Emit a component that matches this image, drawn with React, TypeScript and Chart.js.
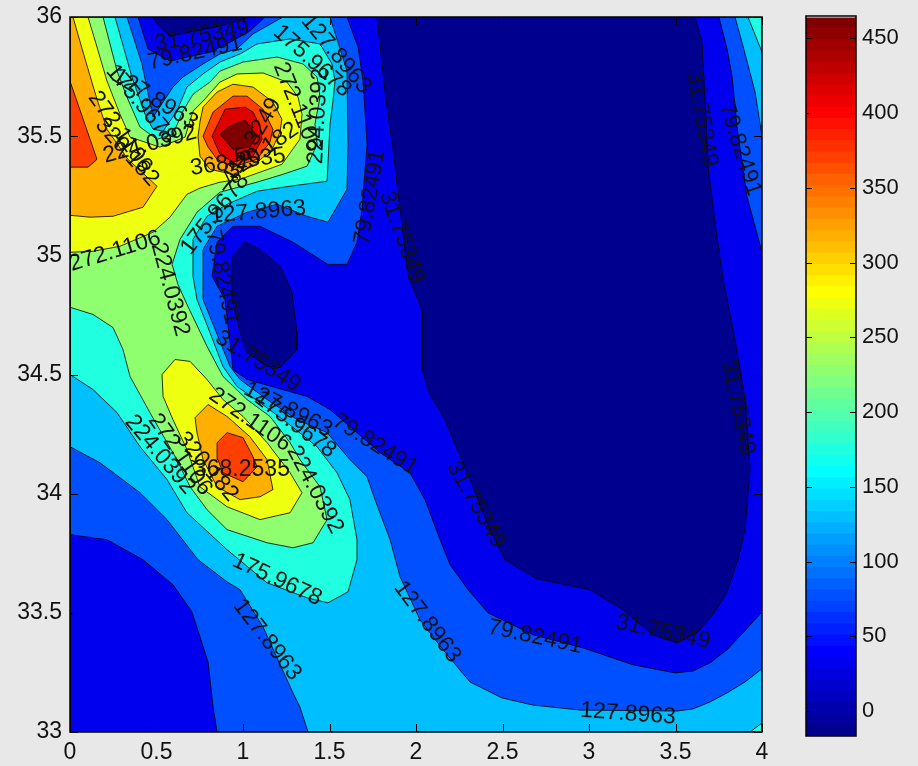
import React, { useEffect, useRef } from "react";
import { Chart, registerables } from "chart.js";

Chart.register(...registerables);

type P = [number, number];

const xTicksStep = 0.5;
const yTicksStep = 0.5;
const colorbarTicks = [0, 50, 100, 150, 200, 250, 300, 350, 400, 450];

const NAVY = "#00008f", BLUE = "#0000ef", MID = "#0050ff", LIGHT = "#00bfff", CYAN = "#20ffdf",
  GREEN = "#8fff70", YELLOW = "#efff10", ORANGE = "#ffaf00", ORANGE_RED = "#ff4000", RED = "#df0000", MAROON = "#800000";

const fieldBase: P[] = [[0,33],[4,33],[4,36],[0,36]];
const navyMain: P[] = [[1.775,36],[1.821,35.685],[1.867,35.445],[1.908,35.193],[1.954,34.912],[2.035,34.773],[2.035,34.521],[2.081,34.416],[2.168,34.311],[2.312,34.059],[2.428,33.849],[2.514,33.723],[2.699,33.643],[3.006,33.597],[3.197,33.513],[3.37,33.408],[3.509,33.374],[3.624,33.416],[3.728,33.504],[3.798,33.588],[3.861,33.723],[3.902,33.849],[3.931,34.101],[3.902,34.395],[3.844,34.647],[3.775,34.899],[3.728,35.139],[3.688,35.374],[3.676,35.571],[3.653,35.895],[3.613,36]];
const navyTop: P[] = [[0.48,36],[0.503,35.971],[0.578,35.92],[0.867,35.962],[1.0,35.992],[1.04,36]];
const navyPool: P[] = [[0.936,34.996],[1.012,35.055],[1.098,35.025],[1.214,34.954],[1.283,34.845],[1.312,34.676],[1.312,34.605],[1.214,34.529],[1.139,34.534],[1.023,34.592],[0.983,34.676],[0.936,34.815]];
const midMain: P[] = [[0,33.828],[0.214,33.807],[0.422,33.723],[0.595,33.618],[0.705,33.504],[0.798,33.294],[0.827,33.105],[0.85,33],[4,33],[4,33.504],[3.89,33.416],[3.798,33.345],[3.699,33.29],[3.601,33.256],[3.497,33.248],[3.254,33.282],[2.965,33.353],[2.676,33.408],[2.416,33.5],[2.301,33.597],[2.197,33.702],[2.139,33.807],[2.052,33.975],[1.965,34.088],[1.792,34.172],[1.659,34.256],[1.503,34.353],[1.37,34.408],[1.023,34.479],[0.942,34.521],[0.896,34.815],[0.821,34.912],[0.85,35.055],[0.942,35.122],[1.098,35.122],[1.289,35.055],[1.491,34.962],[1.601,34.962],[1.659,35.055],[1.688,35.193],[1.717,35.466],[1.694,35.731],[1.665,35.874],[1.601,36],[1.127,36],[1.04,35.941],[0.908,35.887],[0.809,35.853],[0.578,35.815],[0.451,35.866],[0.393,36],[0,36]];
const midCorner: P[] = [[3.751,36],[3.798,35.866],[3.827,35.752],[3.855,35.542],[3.913,35.248],[4,35.013],[4,36]];
const lightMain: P[] = [[0,34.197],[0.173,34.13],[0.405,34.004],[0.561,33.891],[0.74,33.723],[0.908,33.63],[0.983,33.597],[1.116,33.441],[1.289,33.164],[1.329,33.105],[1.376,33],[4,33],[4,33.265],[3.902,33.21],[3.798,33.164],[3.699,33.126],[3.601,33.097],[3.509,33.088],[2.948,33.092],[2.676,33.113],[2.497,33.143],[2.312,33.21],[2.156,33.345],[2.023,33.471],[1.908,33.651],[1.85,33.807],[1.763,33.975],[1.717,34.071],[1.618,34.143],[1.486,34.256],[1.312,34.311],[1.139,34.395],[0.983,34.479],[0.925,34.534],[0.769,34.815],[0.769,35.025],[0.85,35.122],[1.023,35.181],[1.197,35.214],[1.37,35.164],[1.491,35.139],[1.601,35.277],[1.607,35.466],[1.601,35.773],[1.503,36],[1.231,36],[1.058,35.929],[0.965,35.866],[0.867,35.845],[0.769,35.803],[0.653,35.748],[0.595,35.706],[0.48,35.58],[0.416,35.803],[0.329,36],[0,36]];
const lightCorner: P[] = [[3.844,36],[3.89,35.878],[3.96,35.685],[4,35.5],[4,36]];
const cyanMain: P[] = [[0,34.5],[0.133,34.437],[0.272,34.34],[0.405,34.197],[0.561,34.059],[0.676,33.92],[0.908,33.765],[1.139,33.626],[1.37,33.563],[1.491,33.542],[1.607,33.588],[1.659,33.723],[1.659,33.807],[1.618,33.975],[1.543,34.088],[1.428,34.197],[1.254,34.298],[1.098,34.382],[0.965,34.45],[0.884,34.534],[0.809,34.676],[0.734,34.815],[0.711,34.912],[0.711,35.067],[0.792,35.164],[0.908,35.214],[1.081,35.269],[1.272,35.29],[1.486,35.311],[1.503,35.55],[1.52,35.647],[1.532,35.731],[1.514,35.803],[1.445,35.887],[1.272,35.908],[1.081,35.887],[0.983,35.845],[0.867,35.811],[0.769,35.761],[0.676,35.706],[0.618,35.605],[0.538,35.521],[0.48,35.529],[0.434,35.592],[0.358,35.748],[0.26,36],[0,36]];
const cyanTopCorner: P[] = [[3.919,36],[4,35.853],[4,36]];
const cyanBottomCorner: P[] = [[3.931,33],[4,33.038],[4,33]];
const greenMain: P[] = [[0,34.782],[0.133,34.752],[0.249,34.697],[0.306,34.605],[0.347,34.492],[0.462,34.34],[0.618,34.143],[0.694,34.029],[0.792,33.933],[0.908,33.849],[1.139,33.794],[1.289,33.773],[1.405,33.794],[1.486,33.891],[1.445,34.029],[1.329,34.143],[1.272,34.214],[1.156,34.324],[1.023,34.395],[0.884,34.492],[0.792,34.618],[0.676,34.794],[0.624,34.878],[0.59,34.962],[0.636,35.067],[0.734,35.181],[0.867,35.265],[1.081,35.307],[1.231,35.34],[1.37,35.374],[1.428,35.466],[1.416,35.55],[1.445,35.664],[1.428,35.748],[1.347,35.803],[1.197,35.832],[1.0,35.811],[0.867,35.773],[0.809,35.727],[0.711,35.676],[0.653,35.605],[0.595,35.508],[0.503,35.487],[0.405,35.538],[0.329,35.664],[0.272,35.773],[0.191,36],[0,36]];
const yellowMain: P[] = [[0,35.013],[0.133,35.017],[0.289,35.038],[0.48,35.097],[0.578,35.16],[0.676,35.256],[0.751,35.282],[0.867,35.307],[0.983,35.319],[1.225,35.382],[1.329,35.487],[1.341,35.592],[1.318,35.664],[1.254,35.727],[1.116,35.765],[0.965,35.761],[0.867,35.727],[0.769,35.647],[0.711,35.605],[0.665,35.496],[0.52,35.454],[0.347,35.496],[0.289,35.592],[0.214,35.731],[0.156,35.874],[0.104,36],[0,36]];
const yellowLower: P[] = [[0.532,34.5],[0.607,34.563],[0.694,34.555],[0.792,34.479],[0.884,34.395],[1.0,34.324],[1.139,34.214],[1.272,34.088],[1.341,34.004],[1.272,33.92],[1.098,33.891],[0.908,33.945],[0.751,34.029],[0.676,34.185],[0.595,34.311],[0.538,34.408]];
const orangeLeft: P[] = [[0,35.168],[0.116,35.16],[0.249,35.164],[0.422,35.202],[0.503,35.29],[0.335,35.403],[0.214,35.529],[0.156,35.655],[0.087,35.824],[0.017,36],[0,36]];
const orangePeak: P[] = [[0.751,35.559],[0.769,35.622],[0.85,35.685],[0.942,35.718],[1.058,35.706],[1.173,35.643],[1.225,35.571],[1.214,35.517],[1.168,35.445],[1.058,35.374],[0.942,35.34],[0.809,35.361],[0.751,35.416],[0.74,35.5]];
const orangeLower: P[] = [[0.723,34.319],[0.798,34.374],[0.908,34.324],[1.04,34.239],[1.139,34.143],[1.173,34.017],[1.098,33.987],[0.983,33.975],[0.85,34.029],[0.769,34.143],[0.734,34.256]];
const hotLeft: P[] = [[0,35.731],[0.156,35.403],[0.104,35.37],[0,35.37]];
const hotPeak: P[] = [[0.769,35.5],[0.827,35.601],[0.942,35.668],[1.023,35.668],[1.116,35.613],[1.173,35.529],[1.156,35.475],[1.081,35.403],[0.942,35.37],[0.85,35.403],[0.798,35.454]];
const hotLower: P[] = [[0.85,34.214],[0.908,34.256],[1.0,34.235],[1.058,34.155],[1.081,34.113],[1.0,34.05],[0.884,34.088],[0.855,34.143]];
const redPeak: P[] = [[0.821,35.5],[0.896,35.613],[1.012,35.622],[1.058,35.601],[1.098,35.542],[1.11,35.487],[1.058,35.416],[0.942,35.391],[0.867,35.424]];
const maroonPeak: P[] = [[0.867,35.508],[0.925,35.542],[1.012,35.567],[1.081,35.5],[1.04,35.454],[0.942,35.445]];

const paintOrder: [P[], string][] = [
  [fieldBase, BLUE], [navyMain, NAVY], [navyTop, NAVY], [navyPool, NAVY],
  [midMain, MID], [midCorner, MID], [lightMain, LIGHT], [lightCorner, LIGHT],
  [cyanMain, CYAN], [cyanTopCorner, CYAN], [cyanBottomCorner, CYAN], [greenMain, GREEN],
  [yellowMain, YELLOW], [yellowLower, YELLOW], [orangeLeft, ORANGE], [orangePeak, ORANGE], [orangeLower, ORANGE],
  [hotLeft, ORANGE_RED], [hotPeak, ORANGE_RED], [hotLower, ORANGE_RED], [redPeak, RED], [maroonPeak, MAROON],
];

const labelTexts = ["31.75349","79.82491","127.8963","175.9678","272.1106","224.0392","320.182","272.1106","224.0392","127.8963","175.9678","368.2535","416.3249","320.182","272.1106","224.0392","175.9678","127.8963","79.82491","31.75349","127.8963","175.9678","272.1106","224.0392","79.82491","31.75349","127.8963","79.82491","31.75349","127.8963","175.9678","127.8963","224.0392","272.1106","320.182","368.2535","31.75349","79.82491","31.75349","79.82491","31.75349"];
const labelX = [0.763,0.723,1.538,1.399,1.312,1.434,0.329,0.289,0.462,0.491,0.41,0.971,1.052,1.11,0.26,0.578,0.838,1.087,0.879,1.087,1.26,1.301,1.04,1.416,1.763,2.347,2.064,2.688,3.428,3.225,1.197,1.139,0.52,0.636,0.792,0.994,3.653,3.873,3.861,1.734,1.919];
const labelY = [35.92,35.849,35.845,35.815,35.622,35.584,35.433,35.517,35.466,35.655,35.634,35.391,35.479,35.437,35.017,34.857,35.172,35.181,34.908,34.555,34.353,34.29,34.311,34.017,34.206,33.954,33.462,33.399,33.42,33.076,33.639,33.387,34.164,34.164,34.113,34.101,35.571,35.445,34.361,35.244,35.076];
const labelAngle = [-10,-12,50,42,68,-87,48,55,-15,32,50,-8,-60,-35,-17,75,-52,-5,78,32,27,37,35,62,32,60,53,12,12,4,25,52,50,55,50,0,80,72,78,-80,70];

const colorbarEdges = [-16.7,-9.2,-1.7,5.8,13.3,20.9,28.4,35.9,43.4,50.9,58.4,65.9,73.4,81,88.5,96,103.5,111,118.5,126,133.5,141.1,148.6,156.1,163.6,171.1,178.6,186.1,193.6,201.2,208.7,216.2,223.7,231.2,238.7,246.2,253.7,261.3,268.8,276.3,283.8,291.3,298.8,306.3,313.8,321.4,328.9,336.4,343.9,351.4,358.9,366.4,373.9,381.5,389,396.5,404,411.5,419,426.5,434,441.6,449.1,456.6,463.7];
const colorbarColors = ["#00008f","#00009f","#0000af","#0000bf","#0000cf","#0000df","#0000ef","#0000ff","#0010ff","#0020ff","#0030ff","#0040ff","#0050ff","#0060ff","#0070ff","#0080ff","#008fff","#009fff","#00afff","#00bfff","#00cfff","#00dfff","#00efff","#00ffff","#10ffef","#20ffdf","#30ffcf","#40ffbf","#50ffaf","#60ff9f","#70ff8f","#80ff80","#8fff70","#9fff60","#afff50","#bfff40","#cfff30","#dfff20","#efff10","#ffff00","#ffef00","#ffdf00","#ffcf00","#ffbf00","#ffaf00","#ff9f00","#ff8f00","#ff8000","#ff7000","#ff6000","#ff5000","#ff4000","#ff3000","#ff2000","#ff1000","#ff0000","#ef0000","#df0000","#cf0000","#bf0000","#af0000","#9f0000","#8f0000","#800000"];

const PAGE = "#e8e8e8";
const FONT = "'Liberation Sans', Arial, sans-serif";
const INK = "#111111";

const contourOverlay = {
  id: "contourOverlay",
  afterDatasetsDraw(chart: any) {
    const { ctx, chartArea: a, scales } = chart;
    const { x, y } = scales;
    ctx.save();
    ctx.beginPath();
    ctx.rect(a.left, a.top, a.right - a.left, a.bottom - a.top);
    ctx.clip();
    ctx.fillStyle = INK;
    ctx.font = `23px ${FONT}`;
    ctx.textAlign = "center";
    ctx.textBaseline = "middle";
    labelTexts.forEach((t, i) => {
      ctx.save();
      ctx.translate(x.getPixelForValue(labelX[i]), y.getPixelForValue(labelY[i]));
      ctx.rotate((labelAngle[i] * Math.PI) / 180);
      ctx.fillText(t, 0, 0);
      ctx.restore();
    });
    ctx.restore();
    ctx.save();
    ctx.strokeStyle = "#000";
    ctx.lineWidth = 1;
    const len = 8;
    ctx.beginPath();
    x.ticks.forEach((t: any) => {
      const p = Math.round(x.getPixelForValue(t.value)) + 0.5;
      ctx.moveTo(p, a.bottom); ctx.lineTo(p, a.bottom - len);
      ctx.moveTo(p, a.top); ctx.lineTo(p, a.top + len);
    });
    y.ticks.forEach((t: any) => {
      const p = Math.round(y.getPixelForValue(t.value)) + 0.5;
      ctx.moveTo(a.left, p); ctx.lineTo(a.left + len, p);
      ctx.moveTo(a.right, p); ctx.lineTo(a.right - len, p);
    });
    ctx.stroke();
    ctx.lineWidth = 1.5;
    ctx.strokeRect(a.left, a.top, a.right - a.left, a.bottom - a.top);
    ctx.restore();
  },
};

const colorbarFrame = {
  id: "colorbarFrame",
  beforeDatasetsDraw(chart: any) {
    const { ctx, chartArea: a } = chart;
    ctx.save();
    ctx.fillStyle = "#ffffff";
    ctx.fillRect(a.left, a.top, a.right - a.left, a.bottom - a.top);
    ctx.restore();
  },
  afterDatasetsDraw(chart: any) {
    const { ctx, chartArea: a, scales } = chart;
    ctx.save();
    ctx.strokeStyle = "#000";
    ctx.lineWidth = 1;
    ctx.beginPath();
    scales.y.ticks.forEach((t: any) => {
      const p = Math.round(scales.y.getPixelForValue(t.value)) + 0.5;
      ctx.moveTo(a.left, p); ctx.lineTo(a.left + 6, p);
      ctx.moveTo(a.right, p); ctx.lineTo(a.right - 6, p);
    });
    ctx.stroke();
    ctx.lineWidth = 1.5;
    ctx.strokeRect(a.left, a.top, a.right - a.left, a.bottom - a.top);
    ctx.restore();
  },
};

const plain = (v: any) => String(v);

export default function App() {
  const mainRef = useRef<HTMLCanvasElement>(null);
  const barRef = useRef<HTMLCanvasElement>(null);

  useEffect(() => {
    document.body.style.margin = "0";
    document.body.style.background = PAGE;

    const datasets = paintOrder
      .map(([pts, color]) => ({
        data: [...pts, pts[0]].map(([x, y]) => ({ x, y })),
        showLine: true,
        fill: "shape",
        backgroundColor: color,
        borderColor: "#000000",
        borderWidth: 0.8,
        pointRadius: 0,
        tension: 0,
      }))
      .reverse();

    const main = new Chart(mainRef.current!, {
      type: "scatter",
      data: { datasets: datasets as any },
      options: {
        animation: false,
        responsive: false,
        layout: { padding: { top: 17, right: 156, left: 0, bottom: 0 } },
        plugins: { legend: { display: false }, tooltip: { enabled: false } },
        scales: {
          x: {
            type: "linear", min: 0, max: 4,
            grid: { display: false, drawTicks: false }, border: { display: false },
            ticks: { stepSize: xTicksStep, padding: 7, color: INK, font: { family: FONT, size: 23 }, maxRotation: 0, callback: plain },
            afterFit: (s: any) => { s.height = 34; s.paddingLeft = 0; s.paddingRight = 0; },
          },
          y: {
            type: "linear", min: 33, max: 36,
            grid: { display: false, drawTicks: false }, border: { display: false },
            ticks: { stepSize: yTicksStep, padding: 8, color: INK, font: { family: FONT, size: 23 }, callback: plain },
            afterFit: (s: any) => { s.width = 70; s.paddingTop = 0; s.paddingBottom = 0; },
          },
        },
      },
      plugins: [contourOverlay],
    });

    const bar = new Chart(barRef.current!, {
      type: "bar",
      data: {
        labels: ["colorbar"],
        datasets: colorbarColors.map((c, i) => ({
          data: [[colorbarEdges[i], colorbarEdges[i + 1]]],
          backgroundColor: c,
          borderWidth: 0,
          inflateAmount: 0.5,
          barPercentage: 1,
          categoryPercentage: 1,
          grouped: false,
        })) as any,
      },
      options: {
        animation: false,
        responsive: false,
        layout: { padding: { top: 16, bottom: 30, left: 46, right: 2 } },
        plugins: { legend: { display: false }, tooltip: { enabled: false } },
        scales: {
          x: { display: false },
          y: {
            position: "right", min: -16.7, max: 465,
            grid: { display: false, drawTicks: false }, border: { display: false },
            afterBuildTicks: (s: any) => { s.ticks = colorbarTicks.map((value) => ({ value })); },
            ticks: { padding: 6, color: INK, font: { family: FONT, size: 22 }, callback: plain },
            afterFit: (s: any) => { s.width = 60; s.paddingTop = 0; s.paddingBottom = 0; },
          },
        },
      },
      plugins: [colorbarFrame],
    });

    return () => { main.destroy(); bar.destroy(); };
  }, []);

  return (
    <div style={{ position: "relative", width: 918, height: 766, background: PAGE, overflow: "hidden" }}>
      <canvas ref={mainRef} width={918} height={766} style={{ position: "absolute", left: 0, top: 0, width: 918, height: 766 }} />
      <canvas ref={barRef} width={158} height={766} style={{ position: "absolute", left: 760, top: 0, width: 158, height: 766 }} />
    </div>
  );
}
